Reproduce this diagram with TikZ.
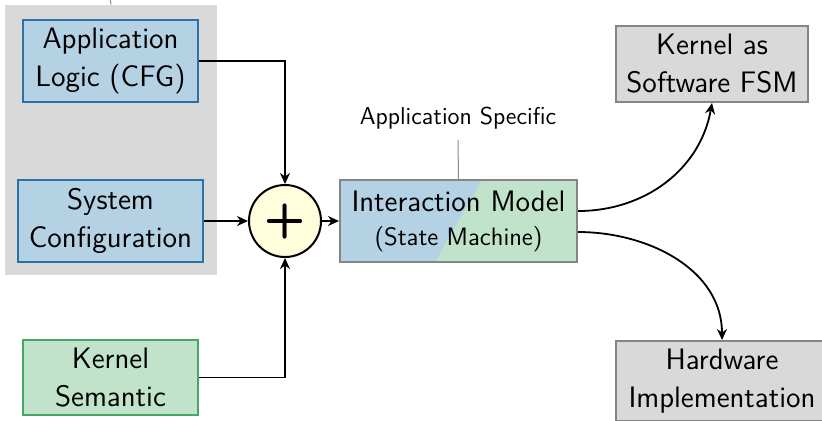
\documentclass[tikz,border=0pt]{standalone}
\usetikzlibrary{arrows.meta,calc}
\renewcommand{\familydefault}{\sfdefault}

\definecolor{logicfill}{HTML}{B4D2E4}
\definecolor{logicdraw}{HTML}{2A72A8}
\definecolor{kernfill}{HTML}{C2E3CB}
\definecolor{kerndraw}{HTML}{45A762}
\definecolor{outfill}{HTML}{D9D9D9}
\definecolor{outdraw}{HTML}{858585}
\definecolor{sumfill}{HTML}{FFFDDC}
\definecolor{pinline}{HTML}{8A8A8A}

\begin{document}
\begin{tikzpicture}[
  x=0.5pt, y=-0.5pt,
  box/.style={draw, line width=1pt, align=center, inner sep=0pt,
    font=\fontsize{14.8}{19}\selectfont},
  inbox/.style={box, fill=logicfill, draw=logicdraw},
  kbox/.style={box, fill=kernfill, draw=kerndraw},
  outbox/.style={box, fill=outfill, draw=outdraw},
  conn/.style={line width=0.9pt, -{Stealth[length=5.5pt,width=5pt]}},
  pin/.style={draw=pinline, line width=0.5pt},
]
\useasboundingbox (0,0) rectangle (822,420);

% grouped application-specific inputs
\node[fill=outfill, minimum width=106pt, minimum height=135pt, inner sep=0pt] (grp) at (111,140) {};
\coordinate (grptop) at (110,-2);
\draw[pin] (grp.north) -- (grptop);

% inputs
\node[inbox, minimum width=87.5pt, minimum height=41pt] (app) at (110.5,61) {Application\\Logic (CFG)};
\node[inbox, minimum width=92.5pt, minimum height=41pt] (sys) at (110.5,221) {System\\Configuration};
\node[kbox, minimum width=87.5pt, minimum height=37.5pt] (kern) at (110.5,377.5) {Kernel\\Semantic};

% combination
\node[circle, draw, line width=1pt, fill=sumfill, minimum size=36pt, inner sep=0pt] (sum) at (285,221)
  {\fontsize{24}{24}\selectfont\bfseries +};

% interaction model, half application-specific, half kernel
\node[box, draw=outdraw, minimum width=118.5pt, minimum height=41pt,
  path picture={
    \fill[kernfill] (path picture bounding box.south west) rectangle (path picture bounding box.north east);
    \fill[logicfill] (path picture bounding box.north west)
      -- ($(path picture bounding box.north west)!0.6!(path picture bounding box.north east)$)
      -- ($(path picture bounding box.south west)!0.4!(path picture bounding box.south east)$)
      -- (path picture bounding box.south west) -- cycle;
  }] (im) at (458.5,221)
  {Interaction Model\\[-2pt]{\fontsize{12.6}{14}\selectfont(State Machine)}};

\node[font=\fontsize{12.2}{14}\selectfont] (spec) at (458,118) {Application Specific};
\coordinate (specpin) at (458,140);
\draw[pin] (specpin) -- (im.north);

% outputs
\node[outbox, minimum width=96pt, minimum height=38pt] (fsm) at (712,64) {Kernel as\\Software FSM};
\node[outbox, minimum width=106pt, minimum height=40pt, anchor=north] (hw) at (722,340) {Hardware\\Implementation};

% connectors
\draw[conn] (app.east) -| (sum.north);
\draw[conn] (sys.east) -- (sum.west);
\draw[conn] (kern.east) -| (sum.south);
\draw[conn] (sum.east) -- (im.west);
\draw[conn] ([yshift=5pt]im.east) to[out=0, in=-100] (fsm.south);
\draw[conn] ([yshift=-5.5pt]im.east) to[out=0, in=90] (hw.north);
\end{tikzpicture}
\end{document}
